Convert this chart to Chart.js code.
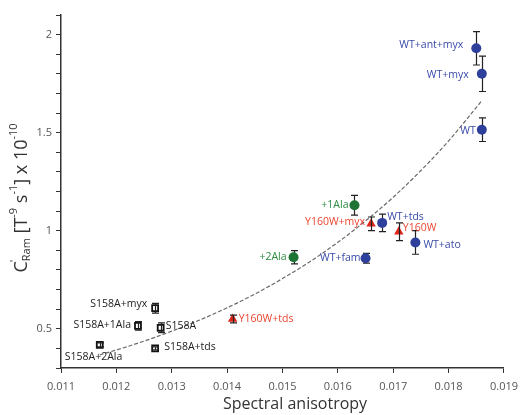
<!DOCTYPE html>
<html>
<head>
<meta charset="utf-8">
<script src="https://cdn.jsdelivr.net/npm/chart.js@4"></script>
<style>
html,body{margin:0;padding:0;background:#fff;}
#c{display:block;}
</style>
</head>
<body>
<canvas id="c" width="525" height="415"></canvas>
<script>
// ---- data ----
const wtLabels = ['WT+ant+myx','WT+myx','WT','WT+tds','WT+ato','WT+fam'];
const wtX = [0.0185,0.0186,0.0186,0.0168,0.0174,0.0165];
const wtY = [1.93,1.80,1.515,1.04,0.94,0.86];
const wtErr = [0.085,0.09,0.06,0.045,0.06,0.025];

const alaLabels = ['+1Ala','+2Ala'];
const alaX = [0.0163,0.0152];
const alaY = [1.13,0.865];
const alaErr = [0.05,0.034];

const y160Labels = ['Y160W+myx','Y160W','Y160W+tds'];
const y160X = [0.0166,0.0171,0.0141];
const y160Y = [1.035,0.995,0.55];
const y160Err = [0.035,0.045,0.02];

const s158Labels = ['S158A+myx','S158A+1Ala','S158A','S158A+2Ala','S158A+tds'];
const s158X = [0.0127,0.01239,0.0128,0.0117,0.0127];
const s158Y = [0.605,0.515,0.505,0.418,0.40];
const s158Err = [0.025,0.022,0.025,0.01,0.008];

const fitX = [0.0117,0.0120,0.0125,0.0130,0.0135,0.0140,0.0145,0.0150,0.0155,0.0160,0.0165,0.0170,0.0175,0.0180,0.0186];
const fitY = [0.367,0.392,0.437,0.488,0.544,0.607,0.677,0.756,0.843,0.941,1.05,1.171,1.307,1.458,1.663];

const xTickValues = [0.011,0.012,0.013,0.014,0.015,0.016,0.017,0.018,0.019];
const yTickLabels = [0.5,1,1.5,2];

// ---- label placement (pixels, relative to point) ----
const wtLabelPos = [[-13,-3,'right'],[-13,1,'right'],[-6,1,'right'],[5,-6,'left'],[8,3,'left'],[-5,0,'right']];
const alaLabelPos = [[-6,0,'right'],[-7,0,'right']];
const y160LabelPos = [[-6,-2,'right'],[4,-4,'left'],[6,0,'left']];
const s158LabelPos = [[-8,-4,'right'],[-7,-1,'right'],[5,-2,'left'],[-35,12,'left'],[9,-1,'left']];

function pts(xs, ys){ return xs.map((x,i)=>({x:x, y:ys[i]})); }

const BLUE = '#2f409c', BLUE_T = '#3a4aa8';
const GREEN = '#1d7434', GREEN_T = '#2a8a3e';
const RED = '#e0261c', RED_T = '#ea4530';

const groups = [
  {idx:1, labels:wtLabels, err:wtErr, pos:wtLabelPos, color:BLUE_T, barsOnTop:false},
  {idx:2, labels:alaLabels, err:alaErr, pos:alaLabelPos, color:GREEN_T, barsOnTop:false},
  {idx:3, labels:y160Labels, err:y160Err, pos:y160LabelPos, color:RED_T, barsOnTop:true},
  {idx:4, labels:s158Labels, err:s158Err, pos:s158LabelPos, color:'#222', barsOnTop:true}
];

function drawBars(chart, onTop){
  const ctx = chart.ctx, ys = chart.scales.y, xs = chart.scales.x;
  ctx.save();
  ctx.strokeStyle = '#222'; ctx.lineWidth = 1.2;
  groups.forEach(g=>{
    if (g.barsOnTop !== onTop) return;
    const data = chart.data.datasets[g.idx].data;
    data.forEach((p,i)=>{
      const px = Math.round(xs.getPixelForValue(p.x))+0.5;
      const top = ys.getPixelForValue(p.y + g.err[i]);
      const bot = ys.getPixelForValue(p.y - g.err[i]);
      ctx.beginPath();
      ctx.moveTo(px, top); ctx.lineTo(px, bot);
      ctx.moveTo(px-3.5, top); ctx.lineTo(px+3.5, top);
      ctx.moveTo(px-3.5, bot); ctx.lineTo(px+3.5, bot);
      ctx.stroke();
    });
  });
  ctx.restore();
}

const overlay = {
  id:'overlay',
  beforeDatasetsDraw(chart){ drawBars(chart,false); },
  afterDatasetsDraw(chart){
    drawBars(chart,true);
    const ctx = chart.ctx, ys = chart.scales.y, xs = chart.scales.x;
    ctx.save();
    ctx.font = '10.5px "Open Sans"';
    ctx.textBaseline = 'middle';
    groups.forEach(g=>{
      const data = chart.data.datasets[g.idx].data;
      ctx.fillStyle = g.color;
      data.forEach((p,i)=>{
        const px = xs.getPixelForValue(p.x), py = ys.getPixelForValue(p.y);
        const o = g.pos[i];
        ctx.textAlign = o[2];
        ctx.fillText(g.labels[i], px+o[0], py+o[1]);
      });
    });
    ctx.restore();
  },
  afterDraw(chart){
    const ctx = chart.ctx;
    ctx.save();
    ctx.fillStyle = '#333';
    // x title
    ctx.font = '16px "Open Sans"';
    ctx.textAlign = 'center'; ctx.textBaseline = 'middle';
    ctx.fillText('Spectral anisotropy', 295, 404);
    // y title, rotated
    ctx.translate(22, 198);
    ctx.rotate(-Math.PI/2);
    const big = '18px "Open Sans"', small = '11px "Open Sans"';
    const parts = [
      {t:'C', f:big, dy:0},
      {t:"'", f:small, dy:-7, stack:true},
      {t:'Ram', f:small, dy:5},
      {t:' [T', f:big, dy:0},
      {t:'-9', f:small, dy:-8},
      {t:' s', f:big, dy:0},
      {t:'-1', f:small, dy:-8},
      {t:'] x 10', f:big, dy:0},
      {t:'-10', f:small, dy:-8}
    ];
    let total = 0;
    parts.forEach(p=>{ ctx.font=p.f; p.w = p.stack ? 0 : ctx.measureText(p.t).width; total += p.w; });
    let x = -total/2;
    ctx.textAlign = 'left'; ctx.textBaseline = 'middle';
    parts.forEach(p=>{
      ctx.font = p.f;
      ctx.fillText(p.t, x + (p.stack ? -1 : 0), p.dy);
      x += p.w;
    });
    ctx.restore();
  }
};

new Chart(document.getElementById('c'), {
  type:'scatter',
  data:{
    datasets:[
      {type:'line', data:pts(fitX,fitY), borderColor:'#6a6a6a', borderWidth:1.2, borderDash:[4,2],
       pointRadius:0, cubicInterpolationMode:'monotone', fill:false},
      {data:pts(wtX,wtY), pointStyle:'circle', pointRadius:5, backgroundColor:BLUE, borderColor:BLUE, borderWidth:0},
      {data:pts(alaX,alaY), pointStyle:'circle', pointRadius:5, backgroundColor:GREEN, borderColor:GREEN, borderWidth:0},
      {data:pts(y160X,y160Y), pointStyle:'triangle', pointRadius:5.5, backgroundColor:RED, borderColor:RED, borderWidth:0},
      {data:pts(s158X,s158Y), pointStyle:'rect', pointRadius:4.2, backgroundColor:'#fff', borderColor:'#111', borderWidth:1.8}
    ]
  },
  options:{
    responsive:false, animation:false, devicePixelRatio:1,
    layout:{padding:{top:15,right:16,left:0,bottom:0}},
    plugins:{legend:{display:false}, tooltip:{enabled:false}},
    scales:{
      x:{
        type:'linear', min:0.011, max:0.019,
        afterFit(s){ s.height = 47; },
        afterBuildTicks(s){ s.ticks = xTickValues.map(v=>({value:v})); },
        ticks:{ callback:(v)=>Number(v).toFixed(3), color:'#555', font:{family:'Open Sans', size:11}, padding:7, maxRotation:0, autoSkip:false },
        grid:{ display:true, drawOnChartArea:false, drawTicks:true, tickLength:5, color:'#333', lineWidth:1 },
        border:{ display:true, color:'#333', width:1.5 }
      },
      y:{
        type:'linear', min:0.3, max:2.1,
        afterFit(s){ s.width = 61; },
        ticks:{ stepSize:0.1, autoSkip:false,
          callback:(v)=>{ const r = Math.round(v*10)/10; return yTickLabels.includes(r) ? String(r) : ''; },
          color:'#555', font:{family:'Open Sans', size:11}, padding:4 },
        grid:{ display:true, drawOnChartArea:false, drawTicks:true, tickLength:5, color:'#333', lineWidth:1 },
        border:{ display:true, color:'#333', width:1.5 }
      }
    }
  },
  plugins:[overlay]
});
</script>
</body>
</html>
